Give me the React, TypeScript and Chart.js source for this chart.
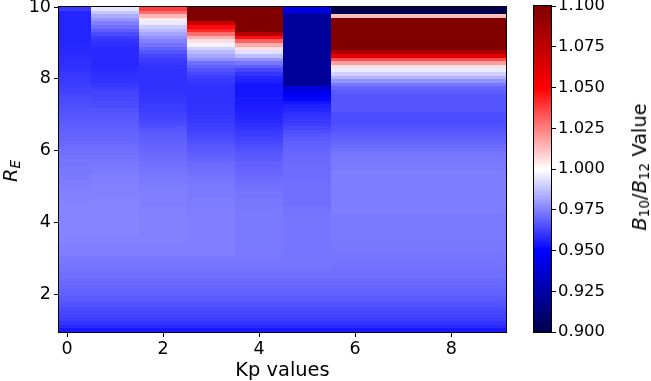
import React, { useEffect, useRef } from "react";
import { Chart, registerables } from "chart.js";
Chart.register(...registerables);

// ---- data ----
const kpValues = [0, 1, 2, 3, 4, 5, 6];
const kpEdges = [-0.17, 0.5, 1.5, 2.5, 3.5, 4.5, 5.5, 9.15];
const xTicks = [0, 2, 4, 6, 8];
const yTicks = [2, 4, 6, 8, 10];
const cbTicks = [0.9, 0.925, 0.95, 0.975, 1.0, 1.025, 1.05, 1.075, 1.1];
const rMin = 0.95;
const rMax = 10.0;
const vMin = 0.9;
const vMax = 1.1;

// B10/B12 per R_E row (bottom row first, ~0.1 R_E per row)
const kp0 = [
  0.955, 0.958, 0.96, 0.962, 0.963, 0.964, 0.965, 0.966, 0.967, 0.968,
  0.969, 0.9695, 0.97, 0.9705, 0.971, 0.9715, 0.972, 0.9725, 0.973, 0.9735,
  0.974, 0.9745, 0.975, 0.975, 0.9755, 0.9755, 0.976, 0.976, 0.976, 0.976,
  0.976, 0.976, 0.976, 0.976, 0.976, 0.976, 0.9755, 0.9755, 0.9755, 0.975,
  0.9745, 0.9745, 0.974, 0.974, 0.9735, 0.9735, 0.973, 0.973, 0.9725, 0.972,
  0.9715, 0.971, 0.9705, 0.97, 0.9695, 0.969, 0.9685, 0.968, 0.9675, 0.967,
  0.9667, 0.966, 0.9655, 0.965, 0.9645, 0.964, 0.963, 0.9625, 0.962, 0.9615,
  0.961, 0.9605, 0.96, 0.9595, 0.959, 0.959, 0.9585, 0.958, 0.958, 0.9575,
  0.957, 0.957, 0.957, 0.957, 0.957, 0.957, 0.957, 0.957, 0.957, 0.961,
];
const kp1 = [
  0.955, 0.958, 0.96, 0.962, 0.963, 0.964, 0.965, 0.966, 0.967, 0.968,
  0.969, 0.9695, 0.97, 0.9705, 0.971, 0.9715, 0.972, 0.9725, 0.973, 0.9735,
  0.974, 0.9745, 0.975, 0.975, 0.9755, 0.9755, 0.976, 0.976, 0.976, 0.976,
  0.976, 0.976, 0.976, 0.976, 0.976, 0.976, 0.976, 0.9755, 0.9755, 0.9755,
  0.9755, 0.975, 0.975, 0.9745, 0.974, 0.974, 0.9735, 0.973, 0.9725, 0.972,
  0.9715, 0.971, 0.9705, 0.97, 0.9695, 0.969, 0.9685, 0.968, 0.9675, 0.967,
  0.9665, 0.966, 0.965, 0.9645, 0.964, 0.9635, 0.963, 0.962, 0.961, 0.96,
  0.9595, 0.959, 0.9585, 0.958, 0.958, 0.958, 0.958, 0.958, 0.958, 0.959,
  0.96, 0.962, 0.965, 0.968, 0.9715, 0.975, 0.979, 0.9835, 0.989, 0.995,
];
const kp2 = [
  0.955, 0.958, 0.96, 0.962, 0.963, 0.964, 0.965, 0.966, 0.967, 0.968,
  0.969, 0.9695, 0.97, 0.9705, 0.971, 0.9715, 0.972, 0.9725, 0.973, 0.9735,
  0.974, 0.9745, 0.975, 0.975, 0.9755, 0.9755, 0.9755, 0.9755, 0.9755, 0.9755,
  0.9755, 0.9755, 0.9755, 0.9755, 0.9755, 0.975, 0.975, 0.975, 0.975, 0.9745,
  0.9745, 0.974, 0.974, 0.9735, 0.973, 0.9725, 0.972, 0.9715, 0.971, 0.9705,
  0.97, 0.9695, 0.969, 0.9685, 0.968, 0.967, 0.966, 0.965, 0.964, 0.963,
  0.9625, 0.962, 0.9615, 0.961, 0.9605, 0.96, 0.96, 0.9595, 0.9595, 0.9595,
  0.9595, 0.9595, 0.9595, 0.96, 0.961, 0.9618, 0.9637, 0.9667, 0.9696, 0.9725,
  0.9755, 0.9784, 0.9824, 0.9863, 0.99, 0.996, 1.004, 1.0145, 1.0285, 1.038,
];
const kp3 = [
  0.955, 0.958, 0.96, 0.962, 0.963, 0.964, 0.965, 0.966, 0.967, 0.968,
  0.969, 0.9695, 0.97, 0.9705, 0.971, 0.9715, 0.972, 0.9725, 0.973, 0.9735,
  0.974, 0.9745, 0.975, 0.975, 0.975, 0.975, 0.975, 0.975, 0.975, 0.975,
  0.975, 0.975, 0.975, 0.975, 0.9745, 0.9745, 0.9745, 0.974, 0.974, 0.974,
  0.9735, 0.9735, 0.973, 0.9725, 0.972, 0.9715, 0.971, 0.97, 0.969, 0.968,
  0.9675, 0.967, 0.966, 0.965, 0.964, 0.963, 0.9625, 0.962, 0.961, 0.9605,
  0.96, 0.96, 0.9595, 0.9595, 0.9595, 0.9595, 0.9595, 0.9595, 0.96, 0.961,
  0.962, 0.964, 0.966, 0.969, 0.972, 0.9784, 0.9824, 0.9863, 0.991, 0.9975,
  1.006, 1.0157, 1.0285, 1.042, 1.048, 1.0716, 1.1, 1.11, 1.12, 1.11,
];
const kp4 = [
  0.955, 0.958, 0.96, 0.962, 0.963, 0.964, 0.965, 0.966, 0.967, 0.968,
  0.969, 0.9695, 0.97, 0.9705, 0.971, 0.9715, 0.972, 0.9725, 0.973, 0.973,
  0.9735, 0.9735, 0.974, 0.974, 0.974, 0.974, 0.974, 0.974, 0.974, 0.974,
  0.974, 0.974, 0.974, 0.974, 0.9735, 0.9735, 0.9735, 0.973, 0.973, 0.9725,
  0.972, 0.9715, 0.971, 0.9705, 0.97, 0.9695, 0.969, 0.968, 0.9675, 0.967,
  0.966, 0.965, 0.964, 0.963, 0.962, 0.961, 0.96, 0.959, 0.958, 0.957,
  0.9565, 0.956, 0.9555, 0.955, 0.955, 0.954, 0.954, 0.954, 0.954, 0.956,
  0.9575, 0.96, 0.9637, 0.9686, 0.9735, 0.979, 0.987, 0.994, 1.006, 1.0165,
  1.031, 1.047, 1.0795, 1.11, 1.12, 1.12, 1.12, 1.12, 1.12, 1.12,
];
const kp5 = [
  0.955, 0.958, 0.96, 0.962, 0.963, 0.964, 0.965, 0.966, 0.967, 0.968,
  0.969, 0.9695, 0.97, 0.9705, 0.971, 0.9715, 0.972, 0.9725, 0.973, 0.973,
  0.973, 0.973, 0.973, 0.973, 0.973, 0.973, 0.973, 0.973, 0.973, 0.973,
  0.973, 0.973, 0.9725, 0.9725, 0.9725, 0.972, 0.972, 0.972, 0.972, 0.972,
  0.9715, 0.9715, 0.9712, 0.9712, 0.9712, 0.9712, 0.971, 0.9706, 0.9706, 0.97,
  0.9696, 0.969, 0.9686, 0.9676, 0.9667, 0.9653, 0.9637, 0.962, 0.961, 0.96,
  0.959, 0.9575, 0.956, 0.954, 0.951, 0.948, 0.944, 0.9389, 0.922, 0.922,
  0.922, 0.922, 0.922, 0.922, 0.922, 0.922, 0.922, 0.922, 0.922, 0.922,
  0.922, 0.922, 0.922, 0.922, 0.922, 0.922, 0.922, 0.922, 0.935, 0.9443,
];
const kp6 = [
  0.955, 0.958, 0.96, 0.962, 0.963, 0.964, 0.965, 0.966, 0.967, 0.968,
  0.969, 0.9695, 0.97, 0.9705, 0.971, 0.9715, 0.972, 0.972, 0.9725, 0.9725,
  0.973, 0.973, 0.9735, 0.9735, 0.9735, 0.974, 0.974, 0.974, 0.974, 0.974,
  0.974, 0.974, 0.974, 0.9745, 0.9745, 0.9745, 0.9745, 0.9745, 0.9745, 0.9745,
  0.9745, 0.9745, 0.9745, 0.9745, 0.9745, 0.974, 0.974, 0.9735, 0.9735, 0.973,
  0.972, 0.971, 0.97, 0.969, 0.968, 0.967, 0.966, 0.9655, 0.965, 0.9647,
  0.9647, 0.9667, 0.9667, 0.9667, 0.9667, 0.9667, 0.9676, 0.9696, 0.9735, 0.979,
  0.985, 0.991, 0.996, 1.0055, 1.0186, 1.0345, 1.06, 1.083, 1.12, 1.12,
  1.12, 1.12, 1.12, 1.12, 1.12, 1.12, 1.12, 1.0127, 0.89, 0.89,
];
const columns = [kp0, kp1, kp2, kp3, kp4, kp5, kp6];

// ---- colormap (matplotlib "seismic") ----
const seismicStops: [number, number[]][] = [
  [0.0, [0, 0, 0.3]],
  [0.25, [0, 0, 1]],
  [0.5, [1, 1, 1]],
  [0.75, [1, 0, 0]],
  [1.0, [0.5, 0, 0]],
];
function seismic(v: number): string {
  let t = (v - vMin) / (vMax - vMin);
  t = Math.max(0, Math.min(1, t));
  for (let i = 0; i < seismicStops.length - 1; i++) {
    const [t0, c0] = seismicStops[i];
    const [t1, c1] = seismicStops[i + 1];
    if (t <= t1) {
      const f = (t - t0) / (t1 - t0);
      const c = c0.map((a, k) => Math.round(255 * (a + (c1[k] - a) * f)));
      return `rgb(${c[0]},${c[1]},${c[2]})`;
    }
  }
  return "rgb(128,0,0)";
}

const FONT = "'DejaVu Sans', sans-serif";

function drawFrame(chart: any) {
  const { ctx, chartArea: a } = chart;
  ctx.save();
  ctx.strokeStyle = "#000";
  ctx.lineWidth = 1;
  ctx.strokeRect(
    Math.round(a.left) - 0.5,
    Math.round(a.top) - 0.5,
    Math.round(a.right) - Math.round(a.left) + 1,
    Math.round(a.bottom) - Math.round(a.top) + 1
  );
  ctx.restore();
}

function zeroPad(s: any) {
  s.paddingTop = 0;
  s.paddingBottom = 0;
  s.paddingLeft = 0;
  s.paddingRight = 0;
}

const heatmapPlugin = {
  id: "heatmap",
  beforeDatasetsDraw(chart: any) {
    const { ctx, chartArea: a, scales } = chart;
    const x = scales.x;
    const y = scales.y;
    ctx.save();
    ctx.beginPath();
    ctx.rect(a.left, a.top, a.right - a.left, a.bottom - a.top);
    ctx.clip();
    columns.forEach((col, c) => {
      const xl = Math.round(x.getPixelForValue(kpEdges[c]));
      const xr = Math.round(x.getPixelForValue(kpEdges[c + 1]));
      const n = col.length;
      col.forEach((v, r) => {
        const r0 = rMin + ((rMax - rMin) * r) / n;
        const r1 = rMin + ((rMax - rMin) * (r + 1)) / n;
        const yb = Math.round(y.getPixelForValue(r0));
        const yt = Math.round(y.getPixelForValue(r1));
        ctx.fillStyle = seismic(v);
        ctx.fillRect(xl, yt, xr - xl, yb - yt);
      });
    });
    ctx.restore();
  },
  afterDraw(chart: any) {
    drawFrame(chart);
  },
};

const colorbarPlugin = {
  id: "colorbar",
  beforeDatasetsDraw(chart: any) {
    const { ctx, chartArea: a, scales } = chart;
    const y = scales.y;
    const N = 256;
    ctx.save();
    for (let k = 0; k < N; k++) {
      const v0 = vMin + ((vMax - vMin) * k) / N;
      const v1 = vMin + ((vMax - vMin) * (k + 1)) / N;
      const yb = y.getPixelForValue(v0);
      const yt = y.getPixelForValue(v1);
      ctx.fillStyle = seismic((v0 + v1) / 2);
      ctx.fillRect(a.left, Math.floor(yt), a.right - a.left, Math.ceil(yb) - Math.floor(yt));
    }
    ctx.restore();
  },
  afterDraw(chart: any) {
    drawFrame(chart);
  },
};

export default function App() {
  const mainRef = useRef<HTMLCanvasElement>(null);
  const cbRef = useRef<HTMLCanvasElement>(null);

  useEffect(() => {
    const tickFont = { family: FONT, size: 17.5 };
    const main = new Chart(mainRef.current as HTMLCanvasElement, {
      type: "scatter",
      data: { datasets: [{ data: [] as any[], label: "B10/B12" }] },
      options: {
        animation: false,
        responsive: false,
        maintainAspectRatio: false,
        layout: { padding: { top: 7, right: 13.6, left: 0, bottom: 0 } },
        plugins: { legend: { display: false }, tooltip: { enabled: false } },
        scales: {
          x: {
            type: "linear",
            min: kpEdges[0],
            max: kpEdges[kpEdges.length - 1],
            afterBuildTicks: (s: any) => {
              s.ticks = xTicks.map((v) => ({ value: v }));
            },
            afterFit: (s: any) => {
              s.height = 49;
              zeroPad(s);
            },
            grid: { drawOnChartArea: false, drawTicks: true, tickLength: 5, color: "#000", lineWidth: 1 },
            border: { display: false },
            ticks: { font: tickFont, color: "#000", padding: 2, maxRotation: 0, autoSkip: false },
          },
          y: {
            type: "linear",
            min: rMin,
            max: rMax,
            afterBuildTicks: (s: any) => {
              s.ticks = yTicks.map((v) => ({ value: v }));
            },
            afterFit: (s: any) => {
              s.width = 59;
              zeroPad(s);
            },
            grid: { drawOnChartArea: false, drawTicks: true, tickLength: 5, color: "#000", lineWidth: 1 },
            border: { display: false },
            ticks: { font: tickFont, color: "#000", padding: 3, autoSkip: false },
          },
        },
      },
      plugins: [heatmapPlugin],
    } as any);

    const cb = new Chart(cbRef.current as HTMLCanvasElement, {
      type: "scatter",
      data: { datasets: [{ data: [] as any[], label: "colorbar" }] },
      options: {
        animation: false,
        responsive: false,
        maintainAspectRatio: false,
        layout: { padding: { top: 6, right: 0, left: 14, bottom: 49 } },
        plugins: { legend: { display: false }, tooltip: { enabled: false } },
        scales: {
          x: { type: "linear", display: false, min: 0, max: 1 },
          y: {
            type: "linear",
            position: "right",
            min: vMin,
            max: vMax,
            afterBuildTicks: (s: any) => {
              s.ticks = cbTicks.map((v) => ({ value: v }));
            },
            afterFit: (s: any) => {
              s.width = 100;
              zeroPad(s);
            },
            grid: { drawOnChartArea: false, drawTicks: true, tickLength: 5, color: "#000", lineWidth: 1 },
            border: { display: false },
            ticks: {
              font: { family: FONT, size: 16.4 },
              color: "#000",
              padding: 2,
              autoSkip: false,
              callback: (v: any) => Number(v).toFixed(3),
            },
          },
        },
      },
      plugins: [colorbarPlugin],
    } as any);

    return () => {
      main.destroy();
      cb.destroy();
    };
  }, []);

  const labelFont: React.CSSProperties = {
    fontFamily: FONT,
    fontSize: "19.4px",
    lineHeight: 1,
    color: "#000",
    whiteSpace: "nowrap",
    position: "absolute",
  };
  const subStyle: React.CSSProperties = { fontSize: "0.7em", verticalAlign: "-0.25em" };

  return (
    <div style={{ position: "absolute", left: 0, top: 0, width: 651, height: 381, background: "#fff" }}>
      <canvas ref={mainRef} width={520} height={381} style={{ position: "absolute", left: 0, top: 0 }} />
      <canvas ref={cbRef} width={131} height={381} style={{ position: "absolute", left: 520, top: 0 }} />
      <div style={{ ...labelFont, left: 282.5, top: 360, transform: "translateX(-50%)" }}>Kp values</div>
      <div style={{ ...labelFont, left: 12, top: 171, transform: "translate(-50%, -50%) rotate(-90deg)" }}>
        <i>R</i>
        <sub style={subStyle}>
          <i>E</i>
        </sub>
      </div>
      <div style={{ ...labelFont, left: 641, top: 167, transform: "translate(-50%, -50%) rotate(-90deg)" }}>
        <i>B</i>
        <sub style={subStyle}>10</sub>/<i>B</i>
        <sub style={subStyle}>12</sub> Value
      </div>
    </div>
  );
}
